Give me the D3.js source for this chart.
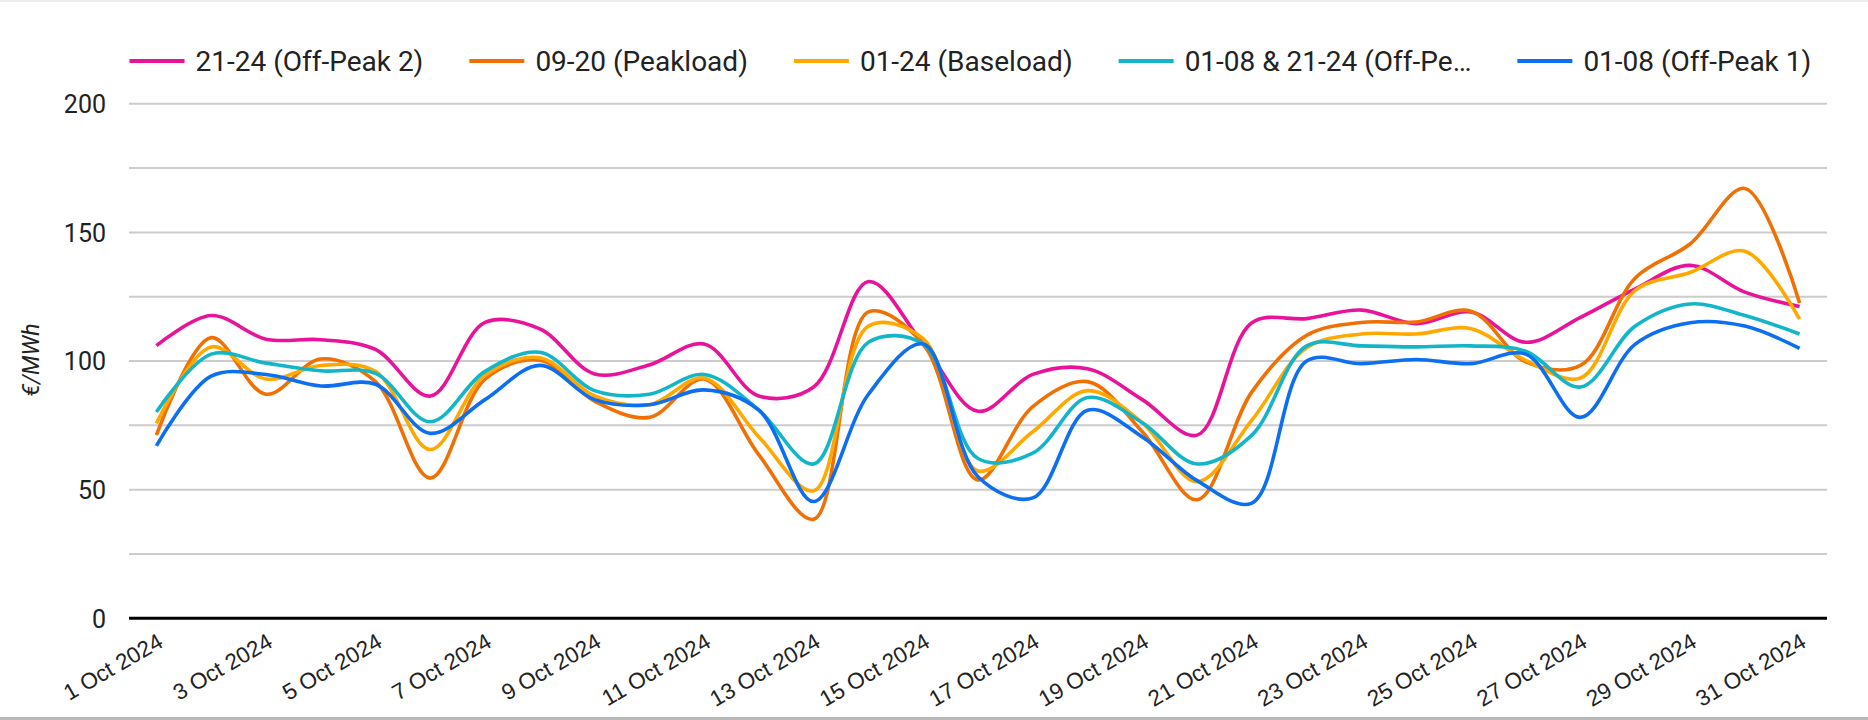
<!DOCTYPE html>
<html><head><meta charset="utf-8">
<script src="https://cdn.jsdelivr.net/npm/d3@7"></script>
<style>html,body{margin:0;padding:0;background:#fff;} svg{display:block}</style>
</head><body>
<svg id="chart" width="1868" height="720"></svg>
<script>
const categories = Array.from({length: 31}, (_, i) => (i + 1) + " Oct 2024");
const tickLabels = categories.filter((_, i) => i % 2 === 0);
const seriesNames = ["21-24 (Off-Peak 2)", "09-20 (Peakload)", "01-24 (Baseload)", "01-08 & 21-24 (Off-Pe\u2026", "01-08 (Off-Peak 1)"];
const offPeak2 = [106, 117.7, 108.5, 108.3, 104.5, 86.4, 115, 112.5, 95, 98.5, 106.6, 86.4, 89.9, 130.9, 106.6, 80.5, 94.8, 97, 85, 71.2, 114.9, 116.5, 119.8, 114.5, 119.1, 107.3, 117, 128.1, 137.2, 126.8, 121.2];
const peakload = [71.2, 109.1, 87.1, 100.8, 92, 54.5, 93, 100.3, 84.4, 78.1, 93, 63.5, 38.5, 119.1, 106.6, 53.8, 82.3, 92, 72.5, 46.1, 88, 110, 115, 115.2, 119.4, 99.7, 98.3, 132.3, 145.5, 167.1, 122.6];
const baseload = [75.7, 105.5, 93, 98.3, 96, 65.6, 94.5, 101.3, 86.4, 83, 93.4, 70.5, 49.6, 113.6, 108.7, 57.3, 72.5, 88.5, 76, 53.1, 77, 105.2, 110.5, 110.5, 112.6, 100.3, 93.4, 127.5, 134.4, 142.7, 116.3];
const offPeakCombined = [80.2, 102.7, 99.2, 96.2, 95.2, 76.4, 96, 103.4, 88.5, 87.1, 94.8, 80.9, 60, 107.3, 106.6, 62.1, 64.2, 85.8, 76, 60, 71.2, 105.9, 105.9, 105.5, 105.9, 103.8, 89.9, 113.6, 122.2, 117.7, 110.5];
const offPeak1 = [67, 94.1, 94.8, 90.3, 91, 71.9, 85, 98.3, 85, 83, 88.8, 80.9, 45.4, 87.1, 106.6, 55, 46.8, 80.9, 70.5, 53.5, 44.8, 100, 99, 100.6, 99, 102.7, 78.1, 106.6, 114.9, 113.6, 104.9];
const yLabelValues = [0, 50, 100, 150, 200];
const gridValues = [25, 50, 75, 100, 125, 150, 175, 200];
const colors = ["#e8139a", "#f07004", "#ffa900", "#12b6c8", "#0b6ff0"];
const yTitle = "\u20ac/MWh";

const allSeries = [offPeak2, peakload, baseload, offPeakCombined, offPeak1];

const svg = d3.select("#chart");
const L = 129, R = 1827, T = 103.8, B = 618.3;
const x = d3.scalePoint().domain(categories).range([L, R]).padding(0.5);
const y = d3.scaleLinear().domain([0, 200]).range([B, T]);

// frame strips
svg.append("rect").attr("x", 0).attr("y", 0).attr("width", 1868).attr("height", 2).attr("fill", "#eeeeee");
svg.append("rect").attr("x", 0).attr("y", 717).attr("width", 1868).attr("height", 3).attr("fill", "#b9b9b9");

// gridlines
svg.append("g").selectAll("line").data(gridValues).join("line")
  .attr("x1", L).attr("x2", R)
  .attr("y1", d => y(d)).attr("y2", d => y(d))
  .attr("stroke", "#cccccc").attr("stroke-width", 2);

// y axis labels
const yAxis = svg.append("g").attr("transform", `translate(${L},0)`)
  .call(d3.axisLeft(y).tickValues(yLabelValues).tickSize(0).tickPadding(23));
yAxis.select(".domain").remove();
yAxis.selectAll("text").attr("font-family", "Roboto").attr("font-size", 25).attr("fill", "#222").attr("dy", "0.35em");

// y title
svg.append("text").attr("transform", "translate(31,360) rotate(-90)")
  .attr("text-anchor", "middle").attr("dominant-baseline", "central")
  .attr("font-family", "Roboto").attr("font-style", "italic").attr("font-size", 23).attr("fill", "#222")
  .text(yTitle);

// lines
const line = d3.line().x((d, i) => x(categories[i])).y(d => y(d)).curve(d3.curveCatmullRom.alpha(0.5));
svg.append("g").selectAll("path").data(allSeries).join("path")
  .attr("d", d => line(d)).attr("fill", "none")
  .attr("stroke", (d, i) => colors[i]).attr("stroke-width", 3.6)
  .attr("stroke-linejoin", "round").attr("stroke-linecap", "butt");

// baseline
svg.append("line").attr("x1", L).attr("x2", R).attr("y1", y(0)).attr("y2", y(0))
  .attr("stroke", "#000").attr("stroke-width", 3);

// x axis labels (explicit rotated text)
svg.append("g").selectAll("text").data(tickLabels).join("text")
  .attr("transform", d => `translate(${x(d)},632) rotate(-30)`)
  .attr("x", 0).attr("y", 0).attr("dy", "0.72em")
  .attr("text-anchor", "end")
  .attr("font-family", "'Liberation Sans', Arial, sans-serif").attr("font-size", 22.5).attr("fill", "#222")
  .text(d => d);

// legend
const legend = svg.append("g");
let lx = 129.5;
seriesNames.forEach((name, i) => {
  const g = legend.append("g");
  g.append("line").attr("x1", lx).attr("x2", lx + 55).attr("y1", 61).attr("y2", 61)
    .attr("stroke", colors[i]).attr("stroke-width", 4);
  const t = g.append("text").attr("x", lx + 66).attr("y", 61).attr("dy", "0.35em")
    .attr("font-family", "Roboto").attr("font-size", 28).attr("fill", "#222").text(name);
  lx = lx + 66 + t.node().getComputedTextLength() + 46;
});
</script>
</body></html>
